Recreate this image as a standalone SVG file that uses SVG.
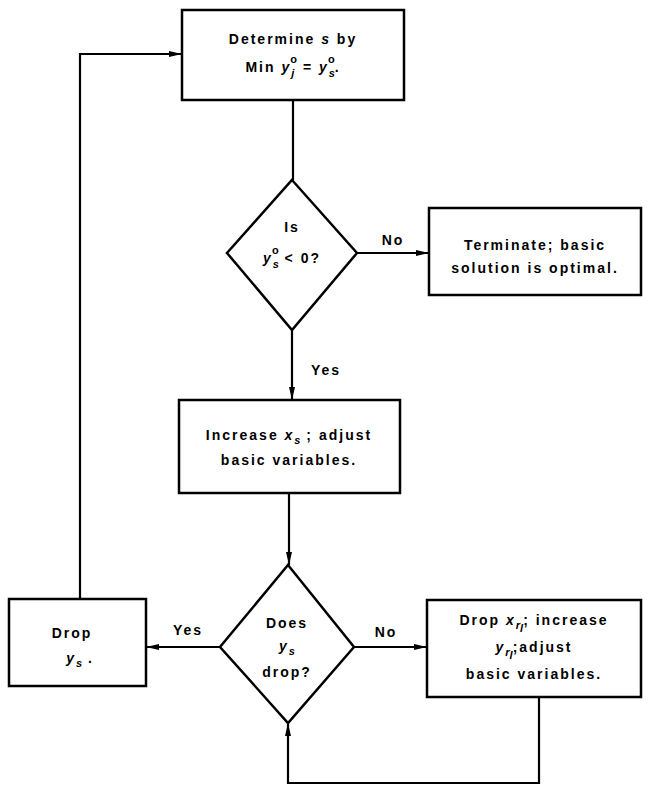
<svg xmlns="http://www.w3.org/2000/svg" width="648" height="792" viewBox="0 0 648 792">
<style>
.box{fill:#fff;stroke:#000;stroke-width:2.5}
.ln{fill:none;stroke:#000;stroke-width:2.2}
text{font-family:"Liberation Sans",Arial,sans-serif;font-size:14px;font-weight:bold;letter-spacing:2px;fill:#000;text-anchor:middle}
.i{font-style:italic}
.sm{font-size:11px;letter-spacing:0}
</style>
<defs>
<marker id="ah" markerWidth="13" markerHeight="8" refX="13" refY="4" orient="auto" markerUnits="userSpaceOnUse"><path d="M0,1 L13,4 L0,7 Z" fill="#000"/></marker>
</defs>
<g id="connectors">
<path class="ln" d="M293,100 V180"/>
<path class="ln" d="M357,253 H429" marker-end="url(#ah)"/>
<path class="ln" d="M292,330 V400" marker-end="url(#ah)"/>
<path class="ln" d="M289,493 V565" marker-end="url(#ah)"/>
<path class="ln" d="M354,647 H427" marker-end="url(#ah)"/>
<path class="ln" d="M220,647 H146" marker-end="url(#ah)"/>
<path class="ln" d="M539,697 V783 H288 V723" marker-end="url(#ah)"/>
<path class="ln" d="M80,599 V54 H182" marker-end="url(#ah)"/>
<text x="393" y="245">No</text>
<text x="326" y="375">Yes</text>
<text x="386" y="637">No</text>
<text x="188" y="635">Yes</text>
</g>
<g id="determine">
<rect class="box" x="182" y="10" width="222" height="90"/>
<text x="293" y="44">Determine <tspan class="i">s</tspan> by</text>
<text x="293" y="72">Min <tspan class="i">y</tspan><tspan class="sm i" dy="5">j</tspan><tspan class="sm" dx="-4" dy="-14">o</tspan><tspan dy="9"> = </tspan><tspan class="i">y</tspan><tspan class="sm i" dy="5">s</tspan><tspan class="sm" dx="-7" dy="-14">o</tspan><tspan dy="9">.</tspan></text>
</g>
<g id="is-neg">
<polygon class="box" points="292,180 357,253 292,330 227,253"/>
<text x="292" y="232">Is</text>
<text x="292" y="263"><tspan class="i">y</tspan><tspan class="sm i" dy="5">s</tspan><tspan class="sm" dx="-7" dy="-14">o</tspan><tspan dy="9"> &lt; 0?</tspan></text>
</g>
<g id="terminate">
<rect class="box" x="429" y="208" width="212" height="87"/>
<text x="535" y="250">Terminate; basic</text>
<text x="535" y="273">solution is optimal.</text>
</g>
<g id="increase">
<rect class="box" x="179" y="400" width="221" height="93"/>
<text x="289" y="440">Increase <tspan class="i">x</tspan><tspan class="sm i" dy="4">s</tspan><tspan dy="-4"> ; adjust</tspan></text>
<text x="289" y="465">basic variables.</text>
</g>
<g id="ys-drop">
<polygon class="box" points="288,565 354,647 288,723 220,647"/>
<text x="287" y="628">Does</text>
<text x="287" y="651"><tspan class="i">y</tspan><tspan class="sm i" dy="4">s</tspan></text>
<text x="287" y="677">drop?</text>
</g>
<g id="drop-ys">
<rect class="box" x="9" y="599" width="137" height="87"/>
<text x="72" y="638">Drop</text>
<text x="80" y="663"><tspan class="i">y</tspan><tspan class="sm i" dy="4">s</tspan><tspan dy="-4"> .</tspan></text>
</g>
<g id="drop-x">
<rect class="box" x="427" y="600" width="214" height="97"/>
<text x="534" y="625">Drop <tspan class="i">x</tspan><tspan class="sm i" dy="4">r</tspan><tspan class="sm i" dy="3" font-size="8">l</tspan><tspan dy="-7">; increase</tspan></text>
<text x="534" y="652"><tspan class="i">y</tspan><tspan class="sm i" dy="4">r</tspan><tspan class="sm i" dy="3" font-size="8">l</tspan><tspan dy="-7">;adjust</tspan></text>
<text x="534" y="679">basic variables.</text>
</g>
</svg>
